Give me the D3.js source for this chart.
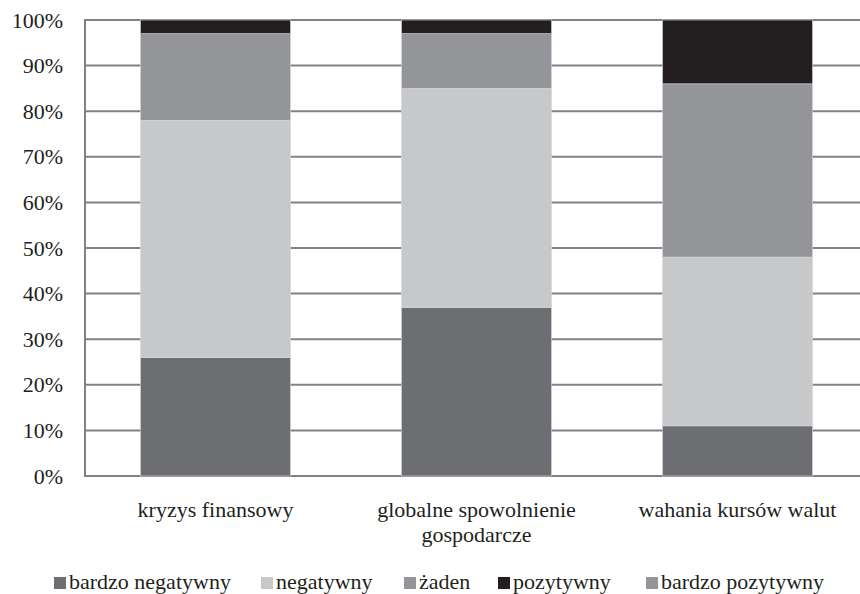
<!DOCTYPE html>
<html>
<head>
<meta charset="utf-8">
<script src="https://cdn.jsdelivr.net/npm/d3@7/dist/d3.min.js"></script>
</head>
<body style="margin:0; background:#fff">
<svg id="chart" width="860" height="594"></svg>
<script>
// Categories (x axis), with explicit line breaks
const categories = ["kryzys finansowy", "globalne spowolnienie gospodarcze", "wahania kursów walut"];
const categoryLines = [["kryzys finansowy"], ["globalne spowolnienie", "gospodarcze"], ["wahania kursów walut"]];

// Series names and their shares (%) per category
const seriesNames = ["bardzo negatywny", "negatywny", "żaden", "pozytywny", "bardzo pozytywny"];
const bardzoNegatywny = [26, 37, 11];
const negatywny = [52, 48, 37];
const zaden = [19, 12, 38];
const pozytywny = [3, 3, 14];
const bardzoPozytywny = [0, 0, 0];
const seriesColors = ["#6d6e71", "#c7c8ca", "#939598", "#231f20", "#939598"];

const yTicks = [0, 0.1, 0.2, 0.3, 0.4, 0.5, 0.6, 0.7, 0.8, 0.9, 1.0];

const seriesValues = [bardzoNegatywny, negatywny, zaden, pozytywny, bardzoPozytywny];
const rows = categories.map((c, i) => {
  const r = { category: c };
  seriesNames.forEach((s, j) => { r[s] = seriesValues[j][i]; });
  return r;
});

const FONT = '"Liberation Serif", "Times New Roman", serif';
const fontSize = 22;
const textColor = "#231f20";

const svg = d3.select("#chart");
const margin = { left: 85, top: 20, bottom: 476 };
const plotRight = 868;

const x = d3.scaleBand().domain(categories).range([margin.left, plotRight]).paddingInner(0.425).paddingOuter(0.2125);
const y = d3.scaleLinear().domain([0, 1]).range([margin.bottom, margin.top]);

const stack = d3.stack().keys(seriesNames).offset(d3.stackOffsetExpand);
const stacked = stack(rows);

// Horizontal gridlines
svg.append("g").selectAll("line").data(yTicks).join("line")
  .attr("x1", margin.left).attr("x2", 860)
  .attr("y1", d => y(d)).attr("y2", d => y(d))
  .attr("stroke", "#808285").attr("stroke-width", 2);

// Vertical axis line
svg.append("line")
  .attr("x1", margin.left).attr("x2", margin.left)
  .attr("y1", y(1) - 1).attr("y2", y(0) + 1)
  .attr("stroke", "#808285").attr("stroke-width", 2);

// Stacked bars
svg.append("g").selectAll("g").data(stacked).join("g")
  .attr("fill", (d, i) => seriesColors[i])
  .selectAll("rect").data(d => d).join("rect")
  .attr("x", d => x(d.data.category))
  .attr("width", x.bandwidth())
  .attr("y", d => y(d[1]))
  .attr("height", d => Math.max(0, y(d[0]) - y(d[1])))
  .attr("stroke", d => (d[1] - d[0]) > 0 ? "#d9dadb" : "none")
  .attr("stroke-width", 0.6);

// Y tick labels
const yAxis = d3.axisLeft(y).tickValues(yTicks).tickFormat(d3.format(".0%")).tickSize(0).tickPadding(0);
const yg = svg.append("g").attr("transform", "translate(63,0)").call(yAxis);
yg.select(".domain").remove();
yg.selectAll("text")
  .attr("dy", "0.32em")
  .style("font-family", FONT).style("font-size", fontSize + "px").style("fill", textColor);

// Category labels
const xg = svg.append("g");
categories.forEach((c, i) => {
  const cx = x(c) + x.bandwidth() / 2;
  const t = xg.append("text")
    .attr("x", cx)
    .attr("y", 517)
    .attr("text-anchor", "middle")
    .style("font-family", FONT).style("font-size", fontSize + "px").style("fill", textColor);
  categoryLines[i].forEach((ln, k) => {
    t.append("tspan").attr("x", cx).attr("dy", k === 0 ? 0 : 25).text(ln);
  });
});

// Legend
const legendX = [54, 261, 404, 498, 646];
const lg = svg.append("g");
seriesNames.forEach((s, i) => {
  lg.append("rect").attr("x", legendX[i]).attr("y", 577).attr("width", 12).attr("height", 12).attr("fill", seriesColors[i]);
  lg.append("text").attr("x", legendX[i] + 15).attr("y", 589)
    .style("font-family", FONT).style("font-size", fontSize + "px").style("fill", textColor)
    .text(s);
});
</script>
</body>
</html>
